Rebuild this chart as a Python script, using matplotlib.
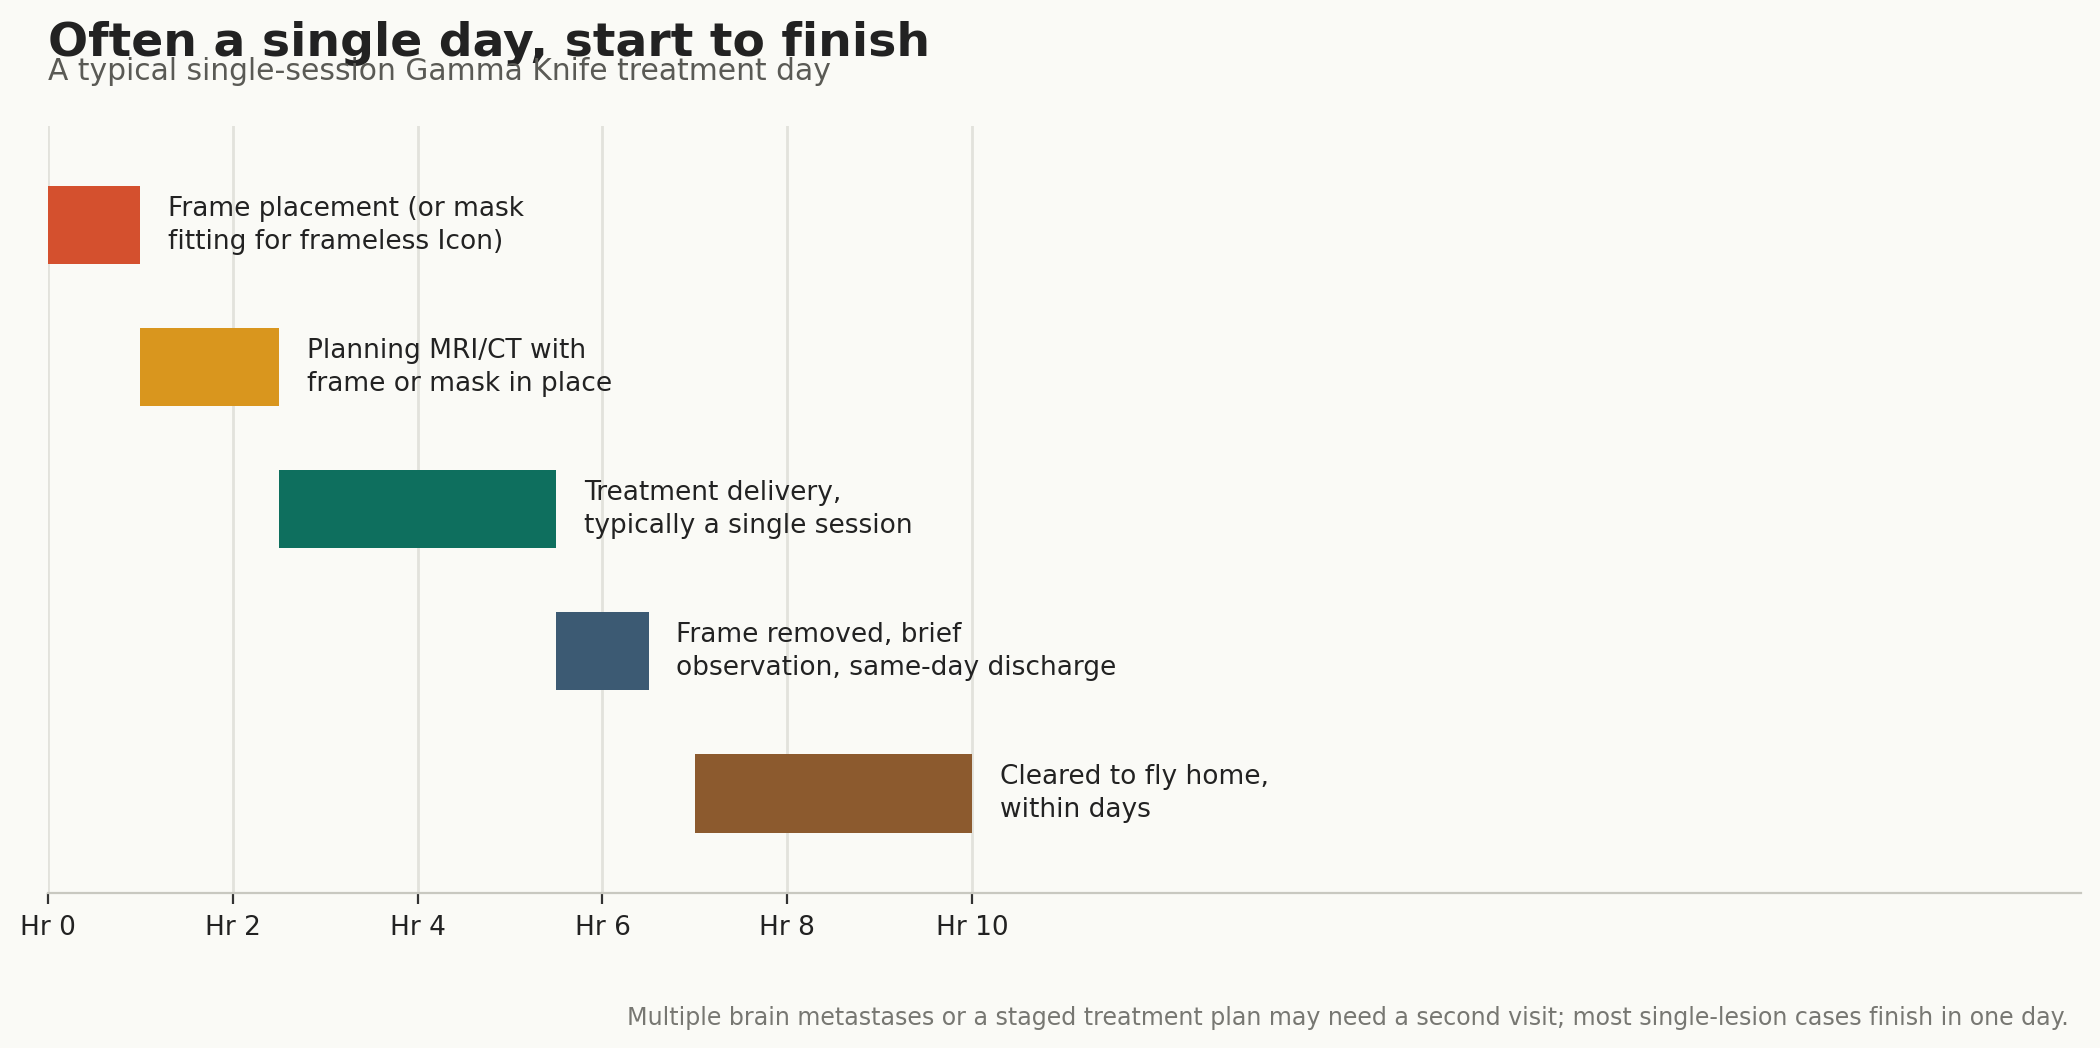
import matplotlib
matplotlib.use("Agg")
import matplotlib.pyplot as plt

# data
steps = [
    "Frame placement (or mask\nfitting for frameless Icon)",
    "Planning MRI/CT with\nframe or mask in place",
    "Treatment delivery,\ntypically a single session",
    "Frame removed, brief\nobservation, same-day discharge",
    "Cleared to fly home,\nwithin days",
]
starts = [0, 1, 2.5, 5.5, 7]
durations = [1, 1.5, 3, 1, 3]
colors = ["#D4502E", "#D9961E", "#0E6F5E", "#3C5A73", "#8C5A2E"]
tick_hours = [0, 2, 4, 6, 8, 10]
tick_labels = ["Hr %d" % h for h in tick_hours]

bg = "#FAFAF6"
fig = plt.figure(figsize=(10.5, 5.24), dpi=200, facecolor=bg)
ax = fig.add_axes([0.0229, 0.148, 0.968, 0.732])
ax.set_facecolor(bg)

ypos = list(range(len(steps)))
ax.barh(ypos, durations, left=starts, height=0.55, color=colors, zorder=3)

for y, s, d, lab in zip(ypos, starts, durations, steps):
    ax.text(s + d + 0.3, y, lab, va="center", ha="left", fontsize=9.5,
            color="#222222", linespacing=1.36, zorder=4)

ax.set_ylim(4.7, -0.7)
ax.set_xlim(0, 22)
ax.set_xticks(tick_hours)
ax.set_xticklabels(tick_labels, fontsize=9.5, color="#222222")
ax.set_yticks([])
ax.grid(axis="x", color="#E2E2DC", linewidth=1.0, zorder=0)
for sp in ["top", "right", "left"]:
    ax.spines[sp].set_visible(False)
ax.spines["bottom"].set_color("#C8C8C0")
ax.spines["bottom"].set_linewidth(0.8)
ax.tick_params(axis="x", length=4, width=0.8, color="#333333", pad=4)

fig.text(0.0229, 0.947, "Often a single day, start to finish", fontsize=17,
         fontweight="bold", color="#222222", ha="left", va="baseline")
fig.text(0.0229, 0.9237, "A typical single-session Gamma Knife treatment day",
         fontsize=10.7, color="#5A5A55", ha="left", va="baseline")
fig.text(0.985, 0.022,
         "Multiple brain metastases or a staged treatment plan may need a second visit; "
         "most single-lesion cases finish in one day.",
         fontsize=8.57, color="#777772", ha="right", va="baseline")

fig.savefig("out.png", facecolor=bg)
